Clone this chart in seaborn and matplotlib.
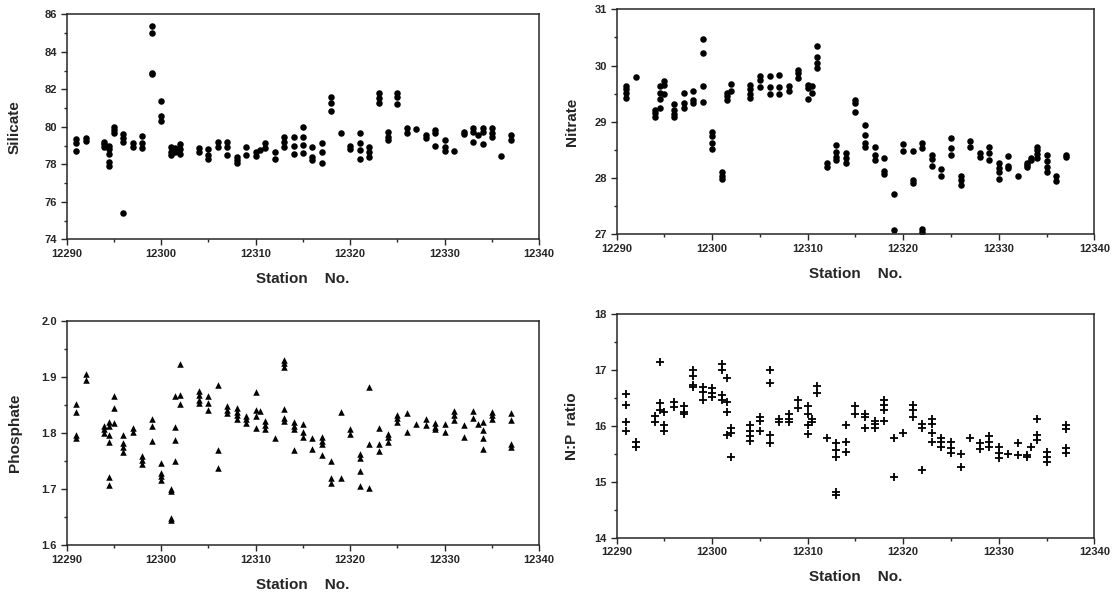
import matplotlib
matplotlib.use("Agg")
import matplotlib.pyplot as plt
from matplotlib.ticker import MultipleLocator
import seaborn as sns
import pandas as pd

# values, grouped by station: (station, [values])
silicate = [
    (12291, [79.35, 79.11, 78.72]), (12292, [79.42, 79.26]),
    (12294, [79.2, 79.06, 78.94]), (12294.5, [78.99, 78.81, 78.54, 78.14, 77.92]),
    (12295, [80.0, 79.83, 79.68]), (12296, [79.59, 79.42, 79.2, 75.41]),
    (12297, [79.11, 78.94]), (12298, [79.5, 79.11, 78.85]),
    (12299, [85.4, 84.99, 82.89, 82.81]), (12300, [81.37, 80.59, 80.32]),
    (12301, [78.94, 78.67, 78.49]), (12301.5, [78.85, 78.67]),
    (12302, [79.08, 78.81, 78.54]), (12304, [78.88, 78.67]),
    (12305, [78.81, 78.49, 78.26]), (12306, [79.2, 78.94]),
    (12307, [79.17, 78.94, 78.49]), (12308, [78.4, 78.22, 78.08]),
    (12309, [78.94, 78.49]), (12310, [78.67, 78.46]), (12310.5, [78.76]),
    (12311, [79.11, 78.85]), (12312, [78.67, 78.26]),
    (12313, [79.47, 79.2, 78.94]), (12314, [79.43, 78.97, 78.54]),
    (12315, [80.0, 79.47, 79.02, 78.58]), (12316, [78.94, 78.4, 78.22]),
    (12317, [79.15, 78.67, 78.08]), (12318, [81.6, 81.25, 80.86]),
    (12319, [79.68]), (12320, [78.99, 78.81]),
    (12321, [79.68, 79.11, 78.76, 78.26]), (12322, [78.94, 78.67, 78.37]),
    (12323, [81.78, 81.51, 81.25]), (12324, [79.74, 79.47, 79.29]),
    (12325, [81.82, 81.57, 81.21]), (12326, [79.91, 79.65]),
    (12327, [79.86]), (12328, [79.56, 79.38]),
    (12329, [79.83, 79.65, 78.99]), (12330, [79.29, 78.94, 78.72]),
    (12331, [78.72]), (12332, [79.7, 79.61]),
    (12333, [79.95, 79.7, 79.2]), (12333.5, [79.56]),
    (12334, [79.95, 79.74, 79.06]), (12335, [79.95, 79.68, 79.47]),
    (12336, [78.44]), (12337, [79.56, 79.29]),
]

nitrate = [
    (12291, [29.64, 29.58, 29.51, 29.43]), (12292, [29.79]),
    (12294, [29.21, 29.15, 29.09]), (12294.5, [29.64, 29.51, 29.41, 29.25]),
    (12295, [29.73, 29.65, 29.49]), (12296, [29.32, 29.21, 29.14, 29.08]),
    (12297, [29.52, 29.33, 29.24]), (12298, [29.55, 29.39, 29.33]),
    (12299, [30.47, 30.23, 29.64, 29.36]), (12300, [28.81, 28.75, 28.62, 28.52]),
    (12301, [28.10, 28.04, 27.98]), (12301.5, [29.51, 29.45, 29.38]),
    (12302, [29.67, 29.54]), (12304, [29.65, 29.58, 29.50, 29.42]),
    (12305, [29.81, 29.74, 29.61]), (12306, [29.81, 29.61, 29.49]),
    (12307, [29.83, 29.61, 29.49]), (12308, [29.64, 29.54]),
    (12309, [29.92, 29.86, 29.77]), (12310, [29.65, 29.60, 29.40]),
    (12310.5, [29.63, 29.51]), (12311, [30.35, 30.16, 30.04, 29.95]),
    (12312, [28.26, 28.20]), (12313, [28.59, 28.47, 28.38, 28.32]),
    (12314, [28.44, 28.35, 28.26]), (12315, [29.39, 29.33, 29.18]),
    (12316, [28.94, 28.77, 28.62, 28.56]), (12317, [28.56, 28.41, 28.32]),
    (12318, [28.35, 28.13, 28.08]), (12319, [27.71, 27.07]),
    (12320, [28.61, 28.48]), (12321, [28.48, 27.97, 27.91]),
    (12322, [28.62, 28.54, 27.09, 27.05]), (12323, [28.41, 28.33, 28.21]),
    (12324, [28.16, 28.03]), (12325, [28.71, 28.53, 28.41]),
    (12326, [28.04, 27.97, 27.88]), (12327, [28.65, 28.56]),
    (12328, [28.44, 28.38]), (12329, [28.56, 28.44, 28.32]),
    (12330, [28.27, 28.17, 28.11, 27.98]), (12331, [28.39, 28.21, 28.17]),
    (12332, [28.03]), (12333, [28.27, 28.23, 28.19]), (12333.4, [28.35, 28.32]),
    (12334, [28.56, 28.50, 28.43, 28.35]), (12335, [28.41, 28.31, 28.20, 28.10]),
    (12336, [28.03, 27.94]), (12337, [28.41, 28.37]),
]

phosphate = [
    (12291, [1.851, 1.837, 1.796, 1.790]), (12292, [1.905, 1.894]),
    (12294, [1.812, 1.806, 1.800]),
    (12294.5, [1.820, 1.812, 1.797, 1.784, 1.722, 1.707]),
    (12295, [1.866, 1.844, 1.817]), (12296, [1.796, 1.781, 1.775, 1.766]),
    (12297, [1.808, 1.802]), (12298, [1.758, 1.752, 1.744]),
    (12299, [1.825, 1.813, 1.785]), (12300, [1.746, 1.729, 1.723, 1.716]),
    (12301, [1.699, 1.696, 1.649, 1.645]), (12301.5, [1.865, 1.811, 1.788, 1.750]),
    (12302, [1.923, 1.868, 1.851]), (12304, [1.875, 1.867, 1.859, 1.853]),
    (12305, [1.866, 1.853, 1.841]), (12306, [1.886, 1.769, 1.737]),
    (12307, [1.848, 1.841, 1.835]), (12308, [1.844, 1.838, 1.832, 1.824]),
    (12309, [1.830, 1.824, 1.817]), (12310, [1.872, 1.841, 1.830, 1.809]),
    (12310.5, [1.839]), (12311, [1.821, 1.814, 1.806]), (12312, [1.790]),
    (12313, [1.930, 1.924, 1.918, 1.842, 1.826, 1.822]),
    (12314, [1.820, 1.812, 1.806, 1.769]), (12315, [1.816, 1.802, 1.792]),
    (12316, [1.791, 1.772]), (12317, [1.793, 1.786, 1.780, 1.760]),
    (12318, [1.750, 1.719, 1.711]), (12319, [1.837, 1.720]),
    (12320, [1.806, 1.798]), (12321, [1.763, 1.755, 1.732, 1.705]),
    (12322, [1.882, 1.780, 1.701]), (12323, [1.808, 1.780, 1.768]),
    (12324, [1.798, 1.792, 1.784]), (12325, [1.832, 1.826, 1.820]),
    (12326, [1.835, 1.802]), (12327, [1.816]), (12328, [1.824, 1.814]),
    (12329, [1.817, 1.811, 1.807]), (12330, [1.816, 1.802]),
    (12331, [1.839, 1.832, 1.823]), (12332, [1.814, 1.792]),
    (12333, [1.839, 1.827]), (12333.5, [1.816]),
    (12334, [1.820, 1.805, 1.790, 1.771]), (12335, [1.838, 1.832, 1.824]),
    (12337, [1.835, 1.823, 1.780, 1.775]),
]

np_ratio = [
    (12291, [16.57, 16.38, 16.07, 15.91]), (12292, [15.72, 15.63]),
    (12294, [16.18, 16.06]), (12294.5, [17.14, 16.40, 16.28]),
    (12295, [16.24, 16.01, 15.91]), (12296, [16.43, 16.34]),
    (12297, [16.35, 16.25, 16.21]), (12298, [16.99, 16.89, 16.73, 16.70]),
    (12299, [16.69, 16.61, 16.46]), (12300, [16.67, 16.59, 16.52]),
    (12301, [17.10, 16.99, 16.55, 16.46]), (12301.5, [16.85, 16.43, 16.24, 15.84]),
    (12302, [15.96, 15.87, 15.45]), (12304, [16.01, 15.90, 15.81, 15.73]),
    (12305, [16.16, 16.09, 15.91]), (12306, [17.0, 16.76, 15.84, 15.69]),
    (12307, [16.12, 16.06]), (12308, [16.22, 16.13, 16.06]),
    (12309, [16.46, 16.32]), (12310, [16.35, 16.22, 16.01, 15.85]),
    (12310.5, [16.13, 16.06]), (12311, [16.71, 16.59]), (12312, [15.79]),
    (12313, [15.70, 15.57, 15.45, 14.82, 14.76]), (12314, [16.01, 15.72, 15.54]),
    (12315, [16.35, 16.22]), (12316, [16.22, 16.15, 15.97]),
    (12317, [16.09, 16.03, 15.96]), (12318, [16.46, 16.37, 16.28, 16.09]),
    (12319, [15.78, 15.09]), (12320, [15.87]), (12321, [16.37, 16.28, 16.16]),
    (12322, [16.04, 15.96, 15.21]), (12323, [16.12, 16.03, 15.87, 15.72]),
    (12324, [15.79, 15.72, 15.63]), (12325, [15.72, 15.61, 15.51]),
    (12326, [15.50, 15.26]), (12327, [15.78]), (12328, [15.70, 15.58]),
    (12329, [15.81, 15.72, 15.63]), (12330, [15.63, 15.51, 15.42]),
    (12331, [15.50]), (12332, [15.69, 15.48]), (12333, [15.48, 15.44]),
    (12333.4, [15.63]), (12334, [16.12, 15.84, 15.75]),
    (12335, [15.54, 15.45, 15.36]), (12337, [16.01, 15.94, 15.60, 15.51]),
]


def to_frame(groups):
    rows = [(st, v) for st, vals in groups for v in vals]
    return pd.DataFrame(rows, columns=["station", "value"])


sns.set_style("ticks")
plt.rcParams["font.family"] = ["Liberation Sans", "DejaVu Sans"]
plt.rcParams["font.weight"] = "bold"

fig = plt.figure(figsize=(11.19, 5.92), dpi=100)

panels = [
    # data, rect, ylabel, ylim, major, minor, marker, size, ylabel x
    (silicate, [0.0596, 0.5958, 0.4223, 0.3801], "Silicate", (74, 86), 2, 1, "o", 22, -0.095),
    (nitrate, [0.5511, 0.6042, 0.4268, 0.3801], "Nitrate", (27, 31), 1, 0.5, "o", 22, -0.078),
    (phosphate, [0.0596, 0.0794, 0.4223, 0.3789], "Phosphate", (1.6, 2.0), 0.1, 0.05, "^", 22, -0.095),
    (np_ratio, [0.5511, 0.0917, 0.4268, 0.3779], "N:P  ratio", (14, 18), 1, 0.5, "+", 30, -0.078),
]

for data, rect, ylab, ylim, major, minor, marker, size, lx in panels:
    ax = fig.add_axes(rect)
    df = to_frame(data)
    if marker == "+":
        sns.scatterplot(data=df, x="station", y="value", ax=ax, marker="+",
                        color="black", s=size, linewidth=1.3)
    else:
        sns.scatterplot(data=df, x="station", y="value", ax=ax, marker=marker,
                        color="black", s=size, linewidth=0)
    ax.set_xlim(12290, 12340)
    ax.set_ylim(*ylim)
    ax.xaxis.set_major_locator(MultipleLocator(10))
    ax.xaxis.set_minor_locator(MultipleLocator(5))
    ax.yaxis.set_major_locator(MultipleLocator(major))
    ax.yaxis.set_minor_locator(MultipleLocator(minor))
    if ylab == "Phosphate":
        ax.yaxis.set_major_formatter(lambda v, p: f"{v:.1f}")
    else:
        ax.yaxis.set_major_formatter(lambda v, p: f"{v:.0f}")
    ax.tick_params(which="major", direction="out", length=4, width=1, labelsize=8, pad=3)
    ax.tick_params(which="minor", direction="out", length=2.5, width=1)
    for sp in ax.spines.values():
        sp.set_linewidth(1.1)
    ax.set_xlabel("Station    No.", fontsize=11, fontweight="bold")
    ax.set_ylabel(ylab, fontsize=11, fontweight="bold")
    ax.xaxis.set_label_coords(0.5, -0.145)
    ax.yaxis.set_label_coords(lx, 0.5)

fig.savefig("out.png", dpi=100)
